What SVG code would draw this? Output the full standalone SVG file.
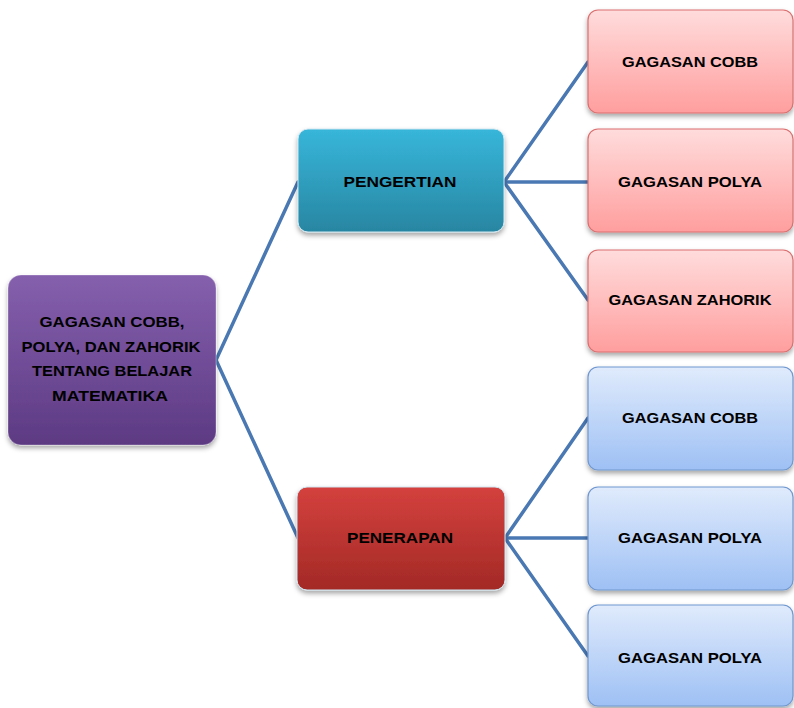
<svg xmlns="http://www.w3.org/2000/svg" width="794" height="708" viewBox="0 0 794 708">
<defs>
<linearGradient id="gRoot" x1="0" y1="0" x2="0" y2="1"><stop offset="0" stop-color="#8560ad"/><stop offset="1" stop-color="#5d3a83"/></linearGradient>
<linearGradient id="gTeal" x1="0" y1="0" x2="0" y2="1"><stop offset="0" stop-color="#37b6da"/><stop offset="1" stop-color="#2886a2"/></linearGradient>
<linearGradient id="gRed" x1="0" y1="0" x2="0" y2="1"><stop offset="0" stop-color="#d4413d"/><stop offset="1" stop-color="#a32926"/></linearGradient>
<linearGradient id="gPink" x1="0" y1="0" x2="0" y2="1"><stop offset="0" stop-color="#ffdcdc"/><stop offset="1" stop-color="#ff9e9e"/></linearGradient>
<linearGradient id="gBlue" x1="0" y1="0" x2="0" y2="1"><stop offset="0" stop-color="#e0ebfc"/><stop offset="1" stop-color="#9ec0f4"/></linearGradient>
<filter id="sh" x="-10%" y="-10%" width="120%" height="130%"><feDropShadow dx="0" dy="3" stdDeviation="2.5" flood-color="#000" flood-opacity="0.35"/></filter>
</defs>
<style>
.t{font-family:"Liberation Sans",Arial,sans-serif;font-weight:bold;font-size:14px;fill:#000;text-anchor:middle}
.c{fill:none;stroke:#4a78b2;stroke-width:3.5;stroke-linejoin:round;stroke-linecap:round}
.pink{fill:url(#gPink);stroke:#dc6f6f;stroke-width:1.2;filter:url(#sh)}
.blue{fill:url(#gBlue);stroke:#6f97d0;stroke-width:1.2;filter:url(#sh)}
.mid{stroke:#cfe6f0;stroke-width:1;filter:url(#sh)}
</style>
<rect width="794" height="708" fill="#fff"/>
<g id="connectors">
<polyline class="c" points="298,182 216,360 298,538"/>
<polyline class="c" points="588,62 504,182 588,300"/>
<line class="c" x1="504" y1="182" x2="588" y2="182"/>
<polyline class="c" points="588,418 505,538 588,656"/>
<line class="c" x1="505" y1="538" x2="588" y2="538"/>
</g>
<g id="root">
<rect x="8" y="275" width="208" height="170" rx="13" fill="url(#gRoot)" stroke="#ffffff" stroke-opacity="0.3" filter="url(#sh)"/>
<text class="t" x="112" y="327" textLength="145" lengthAdjust="spacingAndGlyphs">GAGASAN COBB,</text>
<text class="t" x="111" y="352" textLength="179" lengthAdjust="spacingAndGlyphs">POLYA, DAN ZAHORIK</text>
<text class="t" x="112" y="376" textLength="160" lengthAdjust="spacingAndGlyphs">TENTANG BELAJAR</text>
<text class="t" x="110" y="401" textLength="116" lengthAdjust="spacingAndGlyphs">MATEMATIKA</text>
</g>
<g id="pengertian">
<rect class="mid" x="298" y="129" width="206" height="103" rx="10" fill="url(#gTeal)"/>
<text class="t" x="400" y="187" textLength="113" lengthAdjust="spacingAndGlyphs">PENGERTIAN</text>
</g>
<g id="penerapan">
<rect class="mid" x="297" y="487" width="208" height="103" rx="10" fill="url(#gRed)" stroke="#e8b0b0"/>
<text class="t" x="400" y="543" textLength="106" lengthAdjust="spacingAndGlyphs">PENERAPAN</text>
</g>
<g id="p1">
<rect class="pink" x="588" y="10" width="205" height="103" rx="10"/>
<text class="t" x="690" y="67" textLength="136" lengthAdjust="spacingAndGlyphs">GAGASAN COBB</text>
</g>
<g id="p2">
<rect class="pink" x="588" y="129" width="205" height="103" rx="10"/>
<text class="t" x="690" y="187" textLength="144" lengthAdjust="spacingAndGlyphs">GAGASAN POLYA</text>
</g>
<g id="p3">
<rect class="pink" x="588" y="250" width="205" height="102" rx="10"/>
<text class="t" x="690" y="305" textLength="163" lengthAdjust="spacingAndGlyphs">GAGASAN ZAHORIK</text>
</g>
<g id="b1">
<rect class="blue" x="588" y="367" width="205" height="103" rx="10"/>
<text class="t" x="690" y="423" textLength="136" lengthAdjust="spacingAndGlyphs">GAGASAN COBB</text>
</g>
<g id="b2">
<rect class="blue" x="588" y="487" width="205" height="103" rx="10"/>
<text class="t" x="690" y="543" textLength="144" lengthAdjust="spacingAndGlyphs">GAGASAN POLYA</text>
</g>
<g id="b3">
<rect class="blue" x="588" y="605" width="205" height="101" rx="10"/>
<text class="t" x="690" y="663" textLength="144" lengthAdjust="spacingAndGlyphs">GAGASAN POLYA</text>
</g>
</svg>
